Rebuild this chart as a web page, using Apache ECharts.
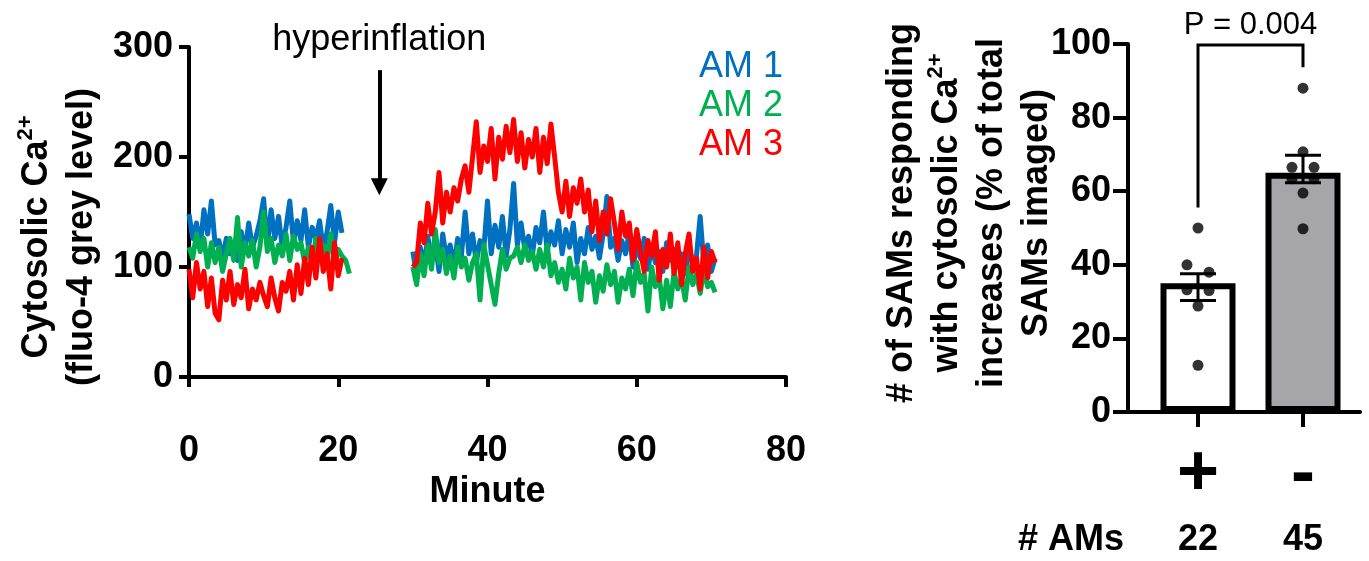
<!DOCTYPE html>
<html><head><meta charset="utf-8">
<script src="https://cdn.jsdelivr.net/npm/echarts@6/dist/echarts.min.js"></script>
<style>html,body{margin:0;padding:0;background:#fff}#c{width:1369px;height:561px}</style>
</head><body><div id="c"></div>
<script>
// ---------- Left panel: cytosolic Ca2+ traces ----------
const stepMin = 0.5;          // sampling interval (minutes)
const seg1Start = 0;          // first recording starts (min)
const seg2Start = 30;         // second recording starts (min)
const gapMinute = 25;         // no recording during hyperinflation

const am1Seg1 = [148,126,140,118,152,130,160,120,124,108,126,112,122,106,132,114,140,118,128,142,162,120,152,126,146,118,136,160,122,142,124,152,118,136,126,142,116,132,156,122,150,131];
const am2Seg1 = [118,108,130,114,126,100,122,104,118,96,112,126,106,145,100,122,110,124,100,118,150,114,126,104,120,110,130,106,128,116,122,104,118,100,126,112,120,108,130,102,116,110,106,94];
const am3Seg1 = [98,72,104,80,96,64,90,58,52,88,70,96,66,84,72,98,62,80,70,86,74,64,90,72,60,86,78,96,70,102,76,108,84,118,90,126,96,112,80,122,92,108];

const am1Seg2 = [114,92,118,100,128,104,122,96,130,108,
  120,100,126,110,150,112,130,104,124,116,
  160,112,138,118,146,110,134,176,120,140,
  116,128,110,136,122,150,114,132,120,142,
  112,134,118,140,104,126,112,136,116,128,
  108,130,164,118,126,106,124,112,132,100,
  120,108,126,98,118,104,114,96,122,106,
  116,100,112,94,118,104,110,146,102,120,
  96,108];
const am2Seg2 = [100,84,112,92,120,98,134,104,116,94,
  110,90,118,100,108,88,104,112,70,120,
  102,84,66,94,116,98,108,110,118,104,
  120,106,114,98,116,100,120,92,104,86,
  98,80,108,90,100,70,104,86,96,68,
  92,78,102,84,96,68,90,80,98,74,
  104,86,94,60,100,82,92,62,88,64,
  96,80,90,70,100,84,94,76,98,82,
  86,77];
const am3Seg2 = [100,104,140,122,158,130,150,186,140,168,
  150,172,160,180,192,168,200,232,186,210,
  196,226,180,218,198,228,204,234,196,222,
  190,216,200,226,186,218,194,230,200,168,
  150,178,146,172,158,180,150,170,132,160,
  124,150,130,162,140,116,150,128,140,106,
  134,114,96,124,110,132,88,116,100,130,
  94,122,84,112,130,96,108,80,118,90,
  114,104];

const traceNames = ['AM 1', 'AM 2', 'AM 3'];
const arrowMinute = 25.5, arrowFrom = 279, arrowTo = 173;
const arrowText = 'hyperinflation';

// ---------- Right panel: % SAMs responding ----------
const groups = ['+', '-'];
const amCounts = [22, 45];
const barMeans = [35, 65];
const errLow = [30.3, 62.3];
const errHigh = [37.6, 69.8];
const dotsPlus = [50, 40, 38, 33.2, 33, 28.8, 12.7];
const dotsMinus = [88, 70.7, 66.5, 66.5, 63.4, 63.4, 59.5, 49.8];
const pText = 'P = 0.004';
const bracketLeftEnd = 55.6, bracketTop = 99.7, bracketRightEnd = 93.7;

// ---------- layout / style ----------
const FONT = '"Liberation Sans", Arial, sans-serif';
const colors = ['#0070C0', '#00B050', '#FF0000'];
const barFills = ['#ffffff', '#a5a5aa'];
const jitterPlus = [0, -0.105, 0.105, -0.105, 0.105, 0, 0];
const jitterMinus = [0, 0, -0.105, 0.105, -0.105, 0.105, 0, 0];

function trace(s1, s2) {
  const d = s1.map((v, i) => [seg1Start + i * stepMin, v]);
  d.push([gapMinute, '-']);
  s2.forEach((v, i) => d.push([seg2Start + i * stepMin, v]));
  return d;
}
const traces = [trace(am1Seg1, am1Seg2), trace(am2Seg1, am2Seg2), trace(am3Seg1, am3Seg2)];

const lab = {color: '#000', fontFamily: FONT, fontSize: 36, fontWeight: 'bold'};
const richT = {fontFamily: FONT, fontSize: 36, fontWeight: 'bold', lineHeight: 45, color: '#000'};
const richS = {fontFamily: FONT, fontSize: 22, fontWeight: 'bold', lineHeight: 35, verticalAlign: 'top', color: '#000'};
const axLine = {show: true, lineStyle: {color: '#000', width: 4}};

const chart = echarts.init(document.getElementById('c'));
const option = {
  animation: false,
  backgroundColor: '#fff',
  grid: [
    {left: 189, top: 47, width: 597, height: 330, outerBoundsMode: 'none'},
    {left: 1128, top: 44, width: 232, height: 368, outerBoundsMode: 'none'}
  ],
  legend: {
    orient: 'vertical', left: 689, top: 43, itemGap: 0, itemWidth: 0, itemHeight: 0,
    icon: 'rect', selectedMode: false,
    textStyle: {fontFamily: FONT, fontSize: 36, lineHeight: 39, padding: 0},
    data: traceNames.map((n, i) => ({name: n, textStyle: {color: colors[i]}}))
  },
  xAxis: [
    {gridIndex: 0, type: 'value', min: 0, max: 80, interval: 20, offset: 31,
     axisLine: axLine, axisTick: {show: true, length: 10, lineStyle: {color: '#000', width: 4}},
     axisLabel: Object.assign({margin: 25}, lab), splitLine: {show: false},
     name: 'Minute', nameLocation: 'middle', nameGap: 66, nameMoveOverlap: false,
     nameTextStyle: Object.assign({lineHeight: 36}, lab)},
    {gridIndex: 1, type: 'value', min: 0.3333, max: 2.5429, offset: 18,
     axisLine: axLine,
     axisTick: {show: true, customValues: [1, 2], length: 15, lineStyle: {color: '#000', width: 4}},
     axisLabel: {customValues: [1, 2], formatter: v => groups[Math.round(v) - 1],
       color: '#000', fontFamily: FONT, fontSize: 72, fontWeight: 'bold', lineHeight: 72,
       verticalAlign: 'middle', margin: 45},
     splitLine: {show: false}},
    {gridIndex: 1, type: 'value', min: 0.3333, max: 2.5429, offset: 128, position: 'bottom',
     axisLine: {show: false}, axisTick: {show: false},
     axisLabel: Object.assign({customValues: [1, 2], formatter: v => String(amCounts[Math.round(v) - 1]),
       verticalAlign: 'middle', margin: 0, lineHeight: 36}, lab),
     splitLine: {show: false},
     name: '# AMs', nameLocation: 'start', nameGap: 4, nameMoveOverlap: false,
     nameTextStyle: Object.assign({verticalAlign: 'middle', align: 'right'}, lab)}
  ],
  yAxis: [
    {gridIndex: 0, type: 'value', min: 0, max: 300, interval: 100,
     axisLine: axLine, axisTick: {show: true, length: 10, lineStyle: {color: '#000', width: 4}},
     axisLabel: Object.assign({margin: 16}, lab), splitLine: {show: false},
     name: '{t|Cytosolic Ca}{s|2+}\n{t|(fluo-4 grey level)}',
     nameLocation: 'middle', nameGap: 84, nameRotate: 90, nameMoveOverlap: false,
     nameTextStyle: {rich: {t: richT, s: richS}, padding: [0, 50, 0, 0]}},
    {gridIndex: 1, type: 'value', min: 0, max: 100, interval: 20,
     axisLine: axLine, axisTick: {show: true, length: 15, lineStyle: {color: '#000', width: 4}},
     axisLabel: Object.assign({margin: 17}, lab), splitLine: {show: false},
     name: '{t|# of SAMs responding}\n{t|with cytosolic Ca}{s|2+}\n{t|increases (% of total}\n{t|SAMs imaged)}',
     nameLocation: 'middle', nameGap: 68, nameRotate: 90, nameMoveOverlap: false,
     nameTextStyle: {rich: {t: richT, s: richS}, padding: [0, 0, 0, 30]}}
  ],
  series: [
    ...traceNames.map((n, i) => ({
      name: n, type: 'line', xAxisIndex: 0, yAxisIndex: 0, data: traces[i],
      showSymbol: false, connectNulls: false, color: colors[i],
      lineStyle: {width: 5, color: colors[i], join: 'round'}, z: 2 + i,
      markLine: i === 2 ? {
        silent: true, symbol: ['none', 'triangle'], symbolSize: [17, 17],
        lineStyle: {color: '#000', width: 4, type: 'solid'},
        itemStyle: {color: '#000'},
        label: {show: true, position: 'start', formatter: arrowText, color: '#000',
          fontFamily: FONT, fontSize: 36, distance: 12},
        data: [[{coord: [arrowMinute, arrowFrom]}, {coord: [arrowMinute, arrowTo]}]]
      } : undefined
    })),
    {type: 'bar', xAxisIndex: 1, yAxisIndex: 1, barWidth: 75, z: 2,
     data: barMeans.map((v, i) => ({value: [i + 1, v], itemStyle: {color: barFills[i]}})),
     itemStyle: {borderColor: '#000', borderWidth: 6}},
    {type: 'custom', xAxisIndex: 1, yAxisIndex: 1, z: 3, clip: false,
     data: groups.map((g, i) => [i + 1, errLow[i], errHigh[i]]),
     encode: {x: 0, y: [1, 2]},
     renderItem(params, api) {
       const x = api.value(0);
       const lo = api.coord([x, api.value(1)]);
       const hi = api.coord([x, api.value(2)]);
       const hw = 18, st = {stroke: '#000', lineWidth: 3};
       return {type: 'group', children: [
         {type: 'line', shape: {x1: lo[0], y1: lo[1], x2: hi[0], y2: hi[1]}, style: st},
         {type: 'line', shape: {x1: lo[0] - hw, y1: lo[1], x2: lo[0] + hw, y2: lo[1]}, style: st},
         {type: 'line', shape: {x1: hi[0] - hw, y1: hi[1], x2: hi[0] + hw, y2: hi[1]}, style: st}
       ]};
     }},
    {type: 'scatter', xAxisIndex: 1, yAxisIndex: 1, z: 4, symbolSize: 11,
     itemStyle: {color: '#000'},
     data: dotsPlus.map((v, i) => [1 + jitterPlus[i], v]).concat(dotsMinus.map((v, i) => [2 + jitterMinus[i], v]))},
    {type: 'custom', xAxisIndex: 1, yAxisIndex: 1, z: 5, clip: false,
     data: [[1, 2, bracketLeftEnd, bracketTop, bracketRightEnd]],
     encode: {x: [0, 1], y: [2, 3, 4]},
     renderItem(params, api) {
       const a = api.coord([api.value(0), api.value(2)]);
       const b = api.coord([api.value(0), api.value(3)]);
       const c = api.coord([api.value(1), api.value(3)]);
       const d = api.coord([api.value(1), api.value(4)]);
       return {type: 'group', children: [
         {type: 'polyline', shape: {points: [a, b, c, d]}, style: {stroke: '#000', lineWidth: 3, fill: null}},
         {type: 'text', x: (b[0] + c[0]) / 2, y: b[1] - 4,
          style: {text: pText, fill: '#000', fontFamily: FONT, fontSize: 31, align: 'center', verticalAlign: 'bottom'}}
       ]};
     }}
  ]
};
chart.setOption(option);
</script>
</body></html>
